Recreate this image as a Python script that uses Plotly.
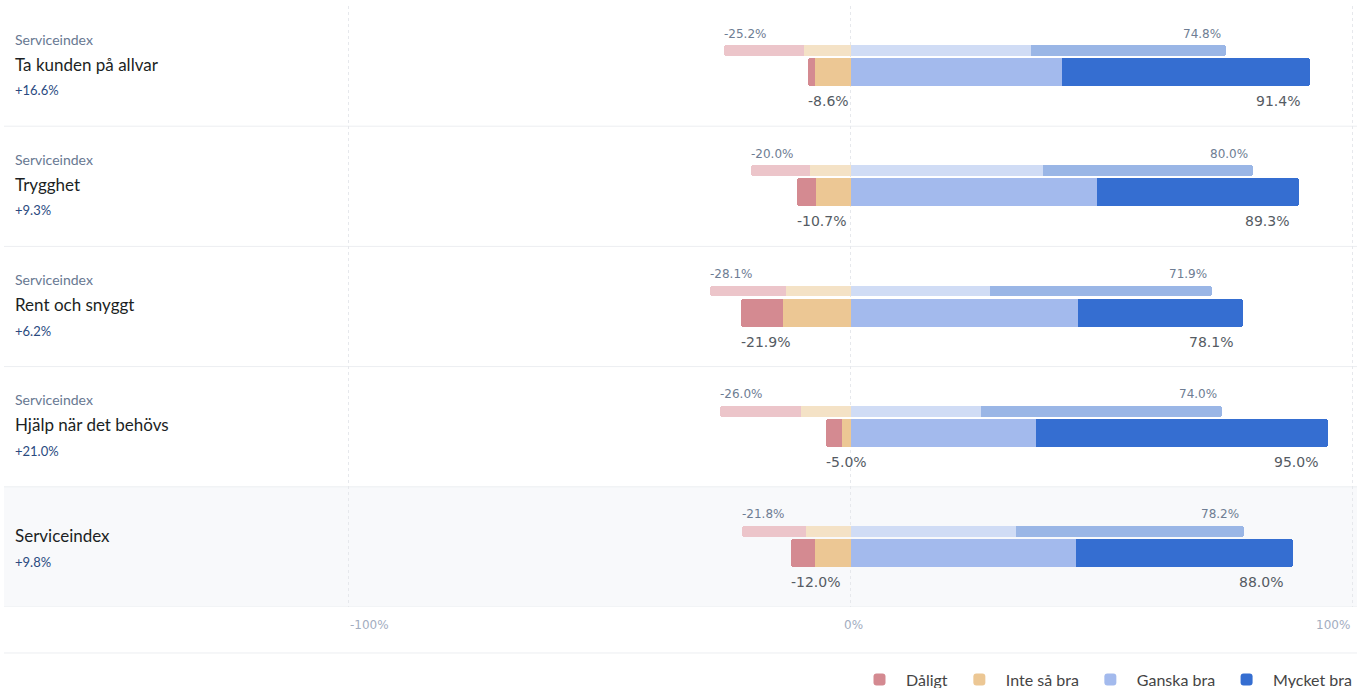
import plotly.graph_objects as go

categories = ["Ta kunden på allvar", "Trygghet", "Rent och snyggt", "Hjälp när det behövs", "Serviceindex"]
subtitles = ["Serviceindex", "Serviceindex", "Serviceindex", "Serviceindex", ""]

# current period (main bars)
daligt = [1.5, 3.8, 8.3, 3.3, 4.9]
inte_sa_bra = [7.1, 6.9, 13.6, 1.7, 7.1]
ganska_bra = [42.0, 49.0, 45.2, 36.8, 44.8]
mycket_bra = [49.4, 40.3, 32.9, 58.2, 43.2]

# previous period (thin bars)
prev_daligt = [15.8, 11.9, 15.1, 16.1, 12.9]
prev_inte_sa_bra = [9.4, 8.1, 13.0, 9.9, 8.9]
prev_ganska_bra = [35.8, 38.3, 27.7, 26.0, 32.9]
prev_mycket_bra = [39.0, 41.7, 44.2, 48.0, 45.3]

series_names = ["Dåligt", "Inte så bra", "Ganska bra", "Mycket bra"]
main_colors = ["#d48a91", "#ecc794", "#a3baed", "#356ed1"]
prev_colors = ["#ecc5ca", "#f4e2c6", "#d0dcf5", "#9ab6e6"]
tick_vals = [-100, 0, 100]
tick_text = ["-100%", "0%", "100%"]

n = len(categories)
rows = list(range(n))
PREV_OFF = -0.129
MAIN_OFF = 0.05

fig = go.Figure()

def neg(v):
    return [-x for x in v]

# previous bars (no legend)
prev_sets = [(neg(prev_inte_sa_bra), 1), (neg(prev_daligt), 0), (prev_ganska_bra, 2), (prev_mycket_bra, 3)]
for vals, k in prev_sets:
    fig.add_trace(go.Bar(
        x=vals, y=[r + PREV_OFF for r in rows], orientation="h", width=0.0915,
        marker=dict(color=prev_colors[k], line=dict(width=0)),
        showlegend=False, hoverinfo="skip", name=series_names[k]))

main_sets = [(neg(inte_sa_bra), 1), (neg(daligt), 0), (ganska_bra, 2), (mycket_bra, 3)]
for vals, k in main_sets:
    fig.add_trace(go.Bar(
        x=vals, y=[r + MAIN_OFF for r in rows], orientation="h", width=0.233,
        marker=dict(color=main_colors[k], line=dict(width=0)),
        name=series_names[k], legendrank=k + 1))

annotations = []
shapes = []

small_font = dict(family="DejaVu Sans", size=12, color="#6e7d93")
main_font = dict(family="DejaVu Sans", size=14, color="#555b63")

for i in rows:
    cur_neg = daligt[i] + inte_sa_bra[i]
    cur_pos = ganska_bra[i] + mycket_bra[i]
    prv_neg = prev_daligt[i] + prev_inte_sa_bra[i]
    prv_pos = prev_ganska_bra[i] + prev_mycket_bra[i]
    change = cur_pos - prv_pos

    annotations += [
        dict(x=-prv_neg, y=i + PREV_OFF, xref="x", yref="y", text=f"-{prv_neg:.1f}%",
             showarrow=False, xanchor="left", yanchor="middle", yshift=17, xshift=-2, font=small_font),
        dict(x=prv_pos, y=i + PREV_OFF, xref="x", yref="y", text=f"{prv_pos:.1f}%",
             showarrow=False, xanchor="right", yanchor="middle", yshift=17, xshift=-3, font=small_font),
        dict(x=-cur_neg, y=i + MAIN_OFF, xref="x", yref="y", text=f"-{cur_neg:.1f}%",
             showarrow=False, xanchor="left", yanchor="middle", yshift=-29, xshift=-2, font=main_font),
        dict(x=cur_pos, y=i + MAIN_OFF, xref="x", yref="y", text=f"{cur_pos:.1f}%",
             showarrow=False, xanchor="right", yanchor="middle", yshift=-29, xshift=-8, font=main_font),
    ]

    sign = "+" if change >= 0 else "-"
    if subtitles[i]:
        annotations += [
            dict(x=0, y=i, xref="paper", yref="y", text=subtitles[i], showarrow=False,
                 xanchor="left", yanchor="middle", xshift=9, yshift=27,
                 font=dict(family="Lato", size=14, color="#687892")),
            dict(x=0, y=i, xref="paper", yref="y", text=categories[i], showarrow=False,
                 xanchor="left", yanchor="middle", xshift=9, yshift=2,
                 font=dict(family="Lato", size=17, color="#1c1f24")),
            dict(x=0, y=i, xref="paper", yref="y", text=f"{sign}{abs(change):.1f}%", showarrow=False,
                 xanchor="left", yanchor="middle", xshift=9, yshift=-24,
                 font=dict(family="Lato", size=13, color="#2a4a7f")),
        ]
    else:
        annotations += [
            dict(x=0, y=i, xref="paper", yref="y", text=categories[i], showarrow=False,
                 xanchor="left", yanchor="middle", xshift=9, yshift=11,
                 font=dict(family="Lato", size=17, color="#1c1f24")),
            dict(x=0, y=i, xref="paper", yref="y", text=f"{sign}{abs(change):.1f}%", showarrow=False,
                 xanchor="left", yanchor="middle", xshift=9, yshift=-15,
                 font=dict(family="Lato", size=13, color="#2a4a7f")),
        ]

# axis tick labels
anchors = ["left", "center", "right"]
shifts = [-1, 3, -1]
for v, t, a, s in zip(tick_vals, tick_text, anchors, shifts):
    annotations.append(dict(x=v, y=0, xref="x", yref="paper", text=t, showarrow=False,
                            xanchor=a, yanchor="middle", yshift=-18, xshift=s,
                            font=dict(family="DejaVu Sans", size=12, color="#a3adbf")))

# last row background
shapes.append(dict(type="rect", xref="paper", yref="y", x0=0, x1=1, y0=n - 1.5, y1=n - 0.5,
                   fillcolor="#f8f9fb", line=dict(width=0), layer="below"))
# row separators
for i in rows:
    shapes.append(dict(type="line", xref="paper", yref="y", x0=0, x1=1, y0=i + 0.5, y1=i + 0.5,
                       line=dict(color="#eceef1", width=1), layer="below"))
# line above legend
shapes.append(dict(type="line", xref="paper", yref="paper", x0=0, x1=1, y0=-0.0765, y1=-0.0765,
                   line=dict(color="#eceef1", width=1)))

fig.update_layout(
    width=1357, height=688,
    margin=dict(l=4, r=0, t=6, b=81, autoexpand=False),
    paper_bgcolor="white", plot_bgcolor="rgba(0,0,0,0)",
    barmode="relative", bargap=0, barcornerradius=3,
    xaxis=dict(range=[-168.7, 100.8], tickvals=tick_vals, showticklabels=False,
               showgrid=True, gridcolor="#e6e8ec", griddash="dot", gridwidth=1,
               zeroline=False, fixedrange=True),
    yaxis=dict(range=[n - 0.5, -0.5], showticklabels=False, showgrid=False, zeroline=False),
    annotations=annotations, shapes=shapes,
    legend=dict(orientation="h", x=1, xanchor="right", y=-0.121, yanchor="middle",
                font=dict(family="Lato", size=16, color="#444"), traceorder="normal",
                itemwidth=43, bgcolor="rgba(0,0,0,0)"),
    showlegend=True,
)

fig.write_html("out.html", config={"displayModeBar": False},
               post_script="document.body.style.margin='0px';")
